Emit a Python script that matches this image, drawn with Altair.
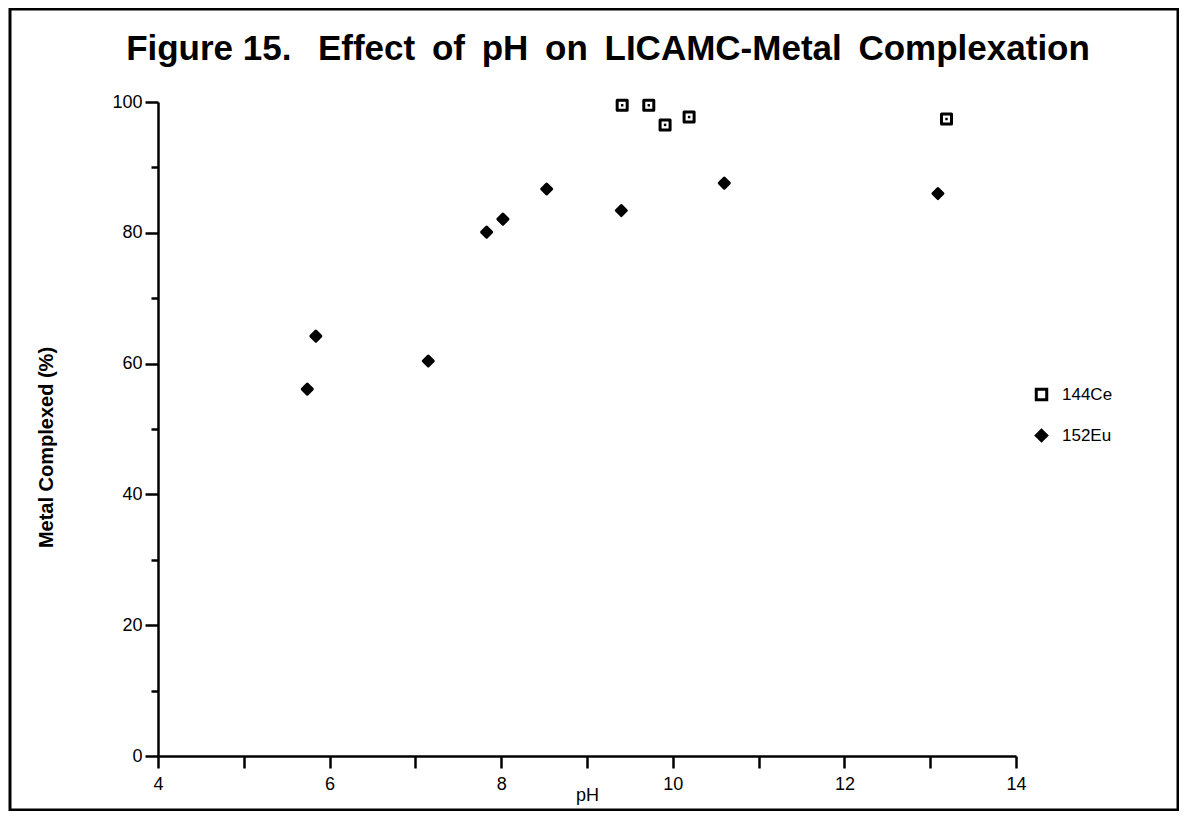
import altair as alt
import pandas as pd

# ---- data ----
ce_ph = [9.41, 9.72, 9.91, 10.19, 13.19]
ce_pct = [99.5, 99.5, 96.5, 97.7, 97.4]
eu_ph = [5.74, 5.84, 7.15, 7.83, 8.02, 8.53, 9.40, 10.60, 13.09]
eu_pct = [56.1, 64.2, 60.4, 80.1, 82.1, 86.7, 83.4, 87.6, 86.0]
series = ["144Ce", "152Eu"]
x_ticks = [4, 5, 6, 7, 8, 9, 10, 11, 12, 13, 14]
y_ticks = list(range(0, 101, 5))
title_text = ["Figure 15.\u00a0\u00a0\u2009Effect \u2009of \u2009pH \u2009on \u2009LICAMC-Metal \u2009Complexation"]

df = pd.DataFrame(
    {
        "pH": ce_ph + eu_ph,
        "pct": ce_pct + eu_pct,
        "isotope": [series[0]] * len(ce_ph) + [series[1]] * len(eu_ph),
    }
)

W, H = 858, 654
FONT = "Liberation Sans"

x_enc = alt.X(
    "pH:Q",
    scale=alt.Scale(domain=[4, 14], nice=False, zero=False),
    axis=alt.Axis(
        title="pH",
        values=x_ticks,
        format="d",
        labelExpr="datum.value % 2 == 0 ? datum.label : ''",
        labelFlush=False,
        tickSize=12,
        labelPadding=7,
        titlePadding=-7,
    ),
)
y_enc = alt.Y(
    "pct:Q",
    scale=alt.Scale(domain=[0, 100], nice=False),
    axis=alt.Axis(
        title="Metal Complexed (%)",
        values=y_ticks,
        format="d",
        labelExpr="datum.value % 20 == 0 ? datum.label : ''",
        labelFlush=False,
        tickSize={"condition": {"test": "datum.value % 20 == 0", "value": 13}, "value": 7},
        labelPadding=3,
        titlePadding=55,
        titleY=345,
        titleFontWeight="bold",
        titleFontSize=20,
    ),
)

leg = alt.Legend(
    title=None,
    orient="none",
    legendX=875,
    legendY=284,
    labelFontSize=17,
    labelFont=FONT,
    labelColor="black",
    symbolSize=110,
    symbolStrokeWidth=3,
    rowPadding=18,
    labelOffset=12,
    padding=0,
)

points = (
    alt.Chart(df)
    .mark_point(filled=True, strokeWidth=3, strokeJoin="round", size=100, opacity=1)
    .encode(
        x=x_enc,
        y=y_enc,
        shape=alt.Shape(
            "isotope:N",
            scale=alt.Scale(domain=series, range=["square", "diamond"]),
            legend=leg,
        ),
        fill=alt.Fill(
            "isotope:N",
            scale=alt.Scale(domain=series, range=["white", "black"]),
            legend=leg,
        ),
        stroke=alt.Stroke(
            "isotope:N",
            scale=alt.Scale(domain=series, range=["black", "black"]),
            legend=leg,
        ),
    )
)

dots = (
    alt.Chart(df)
    .transform_filter(alt.datum.isotope == series[0])
    .mark_point(filled=True, shape="square", size=6, color="black", opacity=1)
    .encode(x="pH:Q", y="pct:Q")
)

title = (
    alt.Chart(pd.DataFrame({"t": title_text}))
    .mark_text(font=FONT, fontSize=35, fontWeight="bold", color="black", align="center", baseline="alphabetic")
    .encode(text="t:N", x=alt.value(450), y=alt.value(-42))
)

border = (
    alt.Chart(pd.DataFrame({"a": [0]}))
    .mark_rect(fillOpacity=0, stroke="black", strokeWidth=3)
    .encode(
        x=alt.value(-148),
        x2=alt.value(W + 162),
        y=alt.value(-93),
        y2=alt.value(H + 54),
    )
)

chart = (
    alt.layer(border, title, points, dots)
    .properties(
        width=W,
        height=H,
        autosize=alt.AutoSizeParams(type="none"),
        padding={"left": 150, "top": 94, "right": 163, "bottom": 55},
    )
    .configure_view(stroke=None)
    .configure_axis(
        grid=False,
        domainColor="black",
        domainWidth=2.5,
        tickColor="black",
        tickWidth=2.5,
        labelFont=FONT,
        labelFontSize=18,
        labelColor="black",
        titleFont=FONT,
        titleFontSize=18,
        titleColor="black",
        titleFontWeight="normal",
    )
)

chart.save("out.html", embed_options={"renderer": "svg", "actions": False})
